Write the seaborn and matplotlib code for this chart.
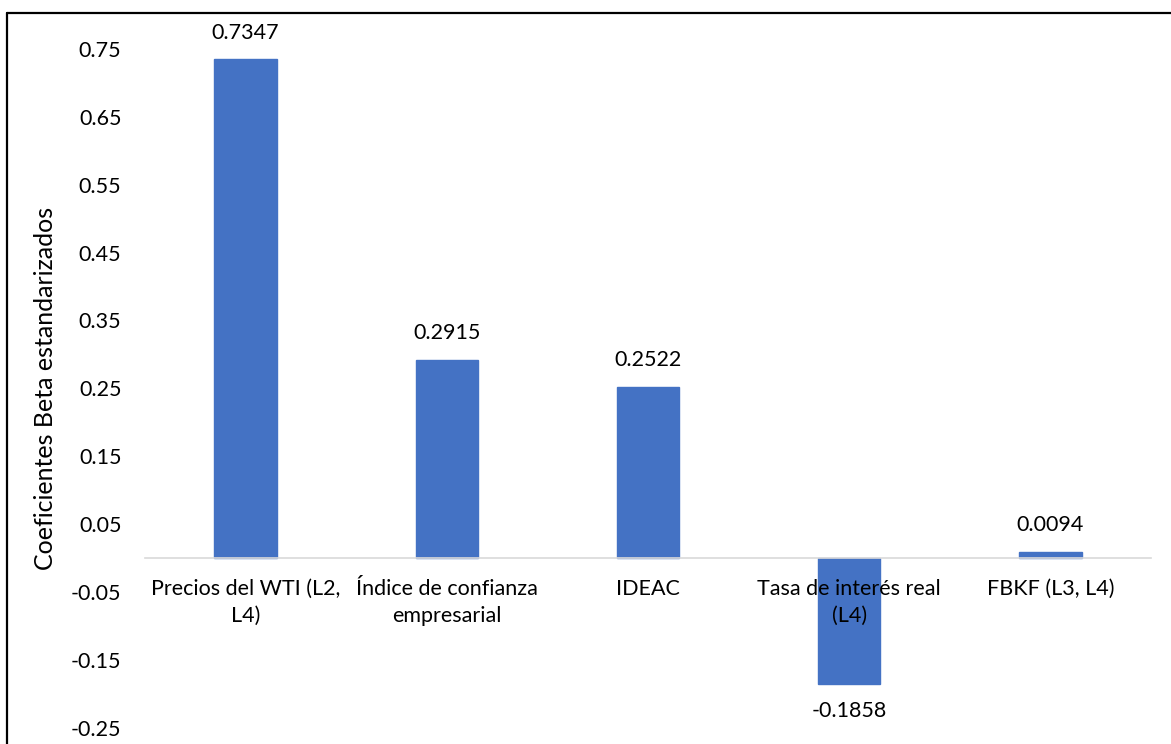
import matplotlib
matplotlib.use("Agg")
import matplotlib.pyplot as plt
import seaborn as sns
import pandas as pd
from matplotlib.lines import Line2D

categories = ["Precios del WTI (L2,\nL4)", "Índice de confianza\nempresarial", "IDEAC",
              "Tasa de interés real\n(L4)", "FBKF (L3, L4)"]
values = [0.7347, 0.2915, 0.2522, -0.1858, 0.0094]
value_labels = ["0.7347", "0.2915", "0.2522", "-0.1858", "0.0094"]
yticks = [-0.25, -0.15, -0.05, 0.05, 0.15, 0.25, 0.35, 0.45, 0.55, 0.65, 0.75]
ylabel = "Coeficientes Beta estandarizados"

sns.set_theme(style="white")
plt.rcParams['font.family'] = ['Lato', 'DejaVu Sans']

df = pd.DataFrame({"cat": categories, "val": values})

fig = plt.figure(figsize=(11.71, 7.44), dpi=100)
ax = fig.add_axes([145/1171, 1 - 727.6/744, (1151-145)/1171, (727.6-49)/744])

sns.barplot(data=df, x="cat", y="val", color="#4472C4", saturation=1, width=0.31, ax=ax)
for p in ax.patches:
    p.set_zorder(1)
    p.set_edgecolor("#4472C4")
ax.xaxis.set_zorder(3)
ax.yaxis.set_zorder(3)

fs = 15.5
ax.set_ylim(-0.25, 0.75)
ax.set_xlim(-0.5, len(categories) - 0.5)
ax.set_yticks(yticks)
ax.set_yticklabels([f"{t:.2f}" for t in yticks], fontsize=fs, color="#000000")
ax.tick_params(axis="y", length=0, pad=17)
ax.tick_params(axis="x", length=0, pad=15, labelsize=fs, labelcolor="#000000")
ax.set_xlabel("")
ax.set_ylabel(ylabel, fontsize=18, color="#000000", labelpad=10)

for s in ["top", "right", "left"]:
    ax.spines[s].set_visible(False)
ax.spines["bottom"].set_position(("data", 0))
ax.spines["bottom"].set_color("#D9D9D9")
ax.spines["bottom"].set_linewidth(1.2)
ax.spines["bottom"].set_zorder(3)
ax.grid(False)

for lbl in ax.get_xticklabels():
    lbl.set_linespacing(1.45)

ax.bar_label(ax.containers[0], labels=value_labels, padding=12, fontsize=fs, color="#000000")

fig.add_artist(Line2D([7/1171, 1], [1 - 12.5/744, 1 - 12.5/744], transform=fig.transFigure, color="black", lw=1.6))
fig.add_artist(Line2D([7/1171, 7/1171], [0, 1 - 12.5/744], transform=fig.transFigure, color="black", lw=1.6))

fig.savefig("out.png", dpi=100, facecolor="white")
